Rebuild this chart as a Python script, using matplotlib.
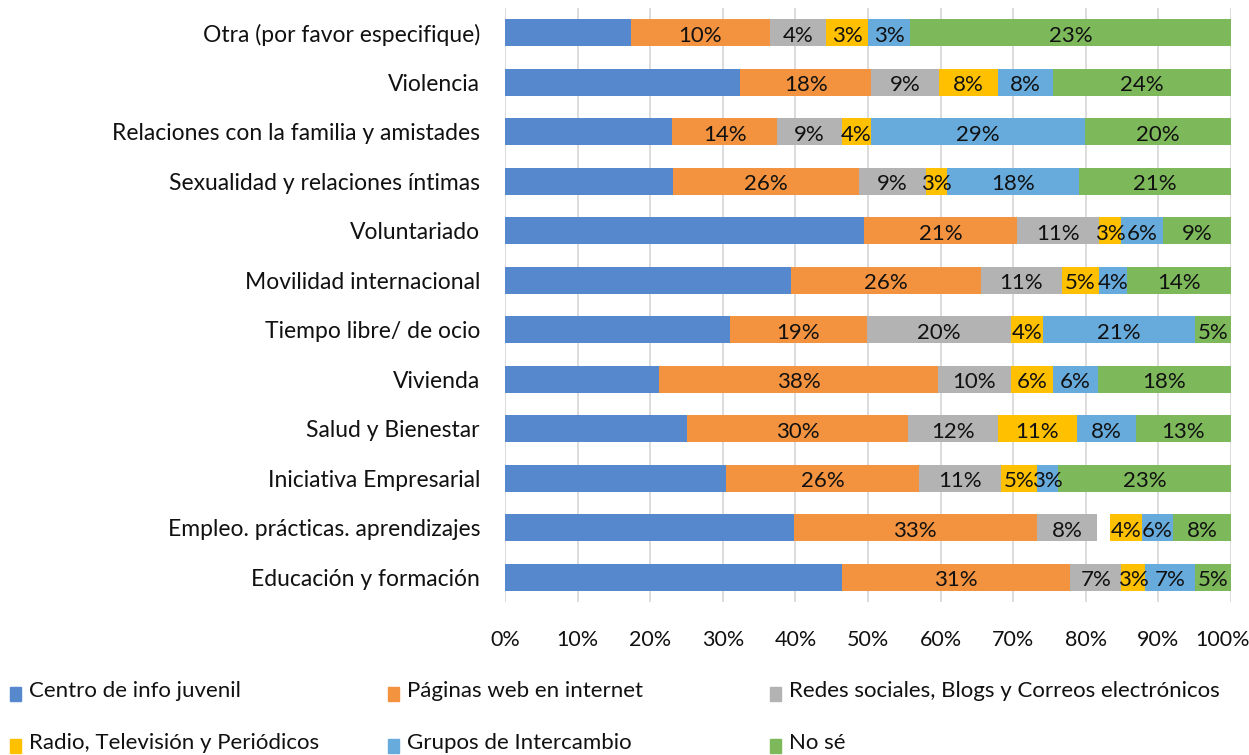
import matplotlib
matplotlib.use("Agg")
import matplotlib.pyplot as plt
from matplotlib.patches import Rectangle
from matplotlib.ticker import FuncFormatter
from matplotlib.transforms import ScaledTranslation

plt.rcParams['font.family'] = ['Lato', 'DejaVu Sans']

categories = [
    "Otra (por favor especifique)",
    "Violencia",
    "Relaciones con la familia y amistades",
    "Sexualidad y relaciones íntimas",
    "Voluntariado",
    "Movilidad internacional",
    "Tiempo libre/ de ocio",
    "Vivienda",
    "Salud y Bienestar",
    "Iniciativa Empresarial",
    "Empleo. prácticas. aprendizajes",
    "Educación y formación",
]

centro  = [9, 32.0, 22.8, 23.1, 49.5, 39.4, 30.9, 21.2, 25.0, 29.8, 39.7, 46.4]
paginas = [10, 17.9, 14.3, 25.7, 21.0, 26.1, 18.9, 38.4, 30.4, 26.0, 33.4, 31.4]
redes   = [4, 9.2, 8.8, 9.3, 11.3, 11.2, 19.8, 10.0, 12.4, 11.1, 8.3, 7.0]
vacio   = [0, 0, 0, 0, 0, 0, 0, 0, 0, 0, 1.8, 0]          # segmento sin relleno
radio   = [3, 8.0, 4.0, 2.8, 3.1, 5.1, 4.4, 5.8, 10.8, 4.8, 4.3, 3.2]
grupos  = [3, 7.6, 29.2, 18.2, 5.8, 3.9, 21.0, 6.2, 8.1, 2.9, 4.3, 7.0]
nose    = [23, 24.2, 19.9, 21.0, 9.3, 14.3, 4.9, 18.3, 13.1, 23.3, 8.0, 4.9]

series_names = ["Centro de info juvenil", "Páginas web en internet",
                "Redes sociales, Blogs y Correos electrónicos", None,
                "Radio, Televisión y Periódicos", "Grupos de Intercambio", "No sé"]
series_vals = [centro, paginas, redes, vacio, radio, grupos, nose]
colors = ["#5588CD", "#F3923F", "#B3B3B3", "none", "#FFC000", "#67AADC", "#7DB95B"]
show_labels = [False, True, True, False, True, True, True]
label_override = {(10, 5): "6%"}

x_ticks = list(range(0, 101, 10))

fig = plt.figure(figsize=(12.49, 7.55), dpi=100)
W, H = 1249, 755
ax = fig.add_axes([505 / W, 1 - 602 / H, (1231 - 505) / W, (602 - 8) / H])

n = len(categories)
totals = [sum(s[i] for s in series_vals) for i in range(n)]
ys = list(range(n))
left = [0.0] * n
FS = 16
for k, vals in enumerate(series_vals):
    widths = [vals[i] / totals[i] * 100 for i in range(n)]
    ax.barh(ys, widths, left=left, height=0.55, color=colors[k],
            edgecolor="none", zorder=3)
    if show_labels[k]:
        for i in range(n):
            if vals[i] <= 0:
                continue
            txt = label_override.get((i, k), f"{round(vals[i]):d}%")
            ax.text(left[i] + widths[i] / 2, ys[i] + 0.06, txt, ha="center",
                    va="center", fontsize=FS, color="#111111", zorder=4)
    left = [left[i] + widths[i] for i in range(n)]

ax.set_xlim(0, 100)
ax.set_ylim(n - 0.5, -0.5)
ax.set_xticks(x_ticks)
ax.xaxis.set_major_formatter(FuncFormatter(lambda v, p: f"{v:.0f}%"))
ax.set_yticks(ys)
ax.set_yticklabels(categories)
ax.tick_params(axis="both", length=0, colors="#111111")
ax.tick_params(axis="x", pad=20, labelsize=15.5)
ax.tick_params(axis="y", pad=18, labelsize=16.5)
ax.grid(axis="x", color="#D9D9D9", lw=1.3, zorder=0)
for s in ax.spines.values():
    s.set_visible(False)
fig.canvas.draw()
last_tick = ax.xaxis.get_major_ticks()[-1]
last_tick.label1.set_transform(last_tick.label1.get_transform()
                               + ScaledTranslation(-0.08, 0, fig.dpi_scale_trans))

# legend (manual, 3 columns x 2 rows)
col_x = [10, 388, 770]
row_y = [691, 743]
order = [0, 1, 2, 4, 5, 6]
for j, k in enumerate(order):
    cx = col_x[j % 3]
    cy = row_y[j // 3]
    fig.patches.append(Rectangle((cx / W, 1 - (cy + 10) / H), 11 / W, 14 / H,
                                 transform=fig.transFigure, color=colors[k]))
    fig.text((cx + 19) / W, 1 - cy / H, series_names[k], fontsize=FS,
             ha="left", va="center", color="#111111")

fig.savefig("out.png", dpi=100)
